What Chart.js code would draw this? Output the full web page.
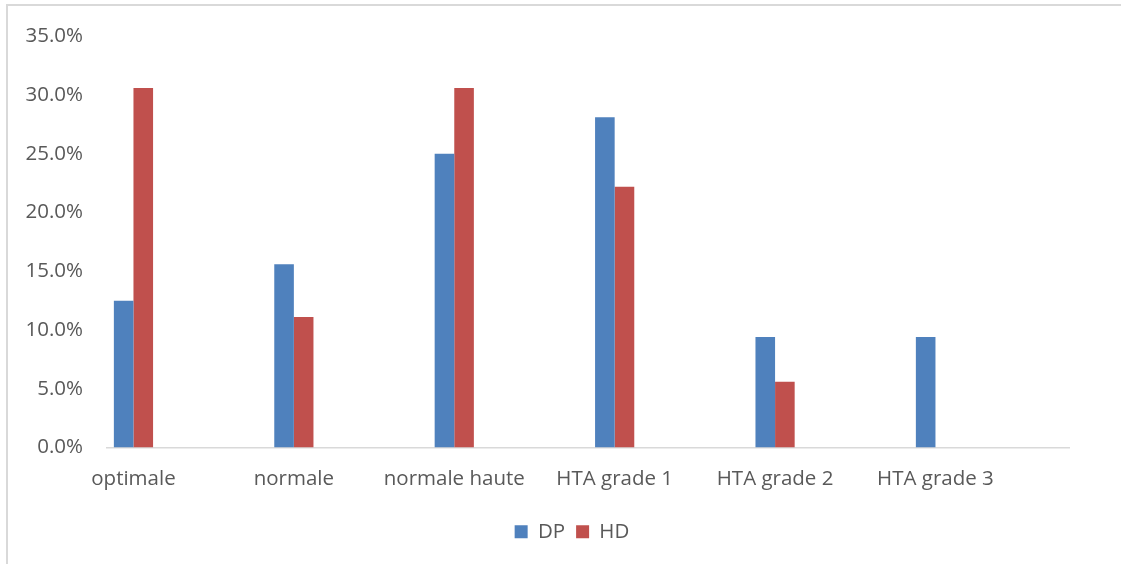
<!DOCTYPE html>
<html>
<head>
<meta charset="utf-8">
<script src="https://cdn.jsdelivr.net/npm/chart.js@4/dist/chart.umd.min.js"></script>
<style>
  html, body { margin: 0; padding: 0; background: #ffffff; }
  #wrap { position: relative; width: 1121px; height: 564px; }
  #frame {
    position: absolute; left: 6px; top: 4px; right: 0; bottom: 0;
    border-left: 2px solid #d9d9d9; border-top: 2px solid #d9d9d9;
    pointer-events: none;
  }
  canvas { position: absolute; left: 0; top: 0; }
</style>
</head>
<body>
<div id="wrap">
  <canvas id="c" width="1121" height="564"></canvas>
  <div id="frame"></div>
</div>
<script>
// Blood-pressure classes and the share of each group (in %)
const categories = ['optimale', 'normale', 'normale haute', 'HTA grade 1', 'HTA grade 2', 'HTA grade 3'];
const dpValues = [12.5, 15.6, 25.0, 28.1, 9.4, 9.4];
const hdValues = [30.6, 11.1, 30.6, 22.2, 5.6, 0];
const yTicks = [0, 5, 10, 15, 20, 25, 30, 35];

const textColor = '#595959';
const font = { family: "'Open Sans', sans-serif", size: 20.5 };

const toPoints = vals => vals.map((v, i) => ({ x: i, y: v }));

// Centre the legend under the block that spans the value labels and the plot
const legendShift = {
  id: 'legendShift',
  beforeDraw(chart) {
    const lg = chart.legend;
    if (lg) { lg.left = 75; lg.right = chart.chartArea.right; }
  }
};

new Chart(document.getElementById('c'), {
  type: 'bar',
  data: {
    datasets: [
      { label: 'DP', data: toPoints(dpValues), backgroundColor: '#4f81bd', borderWidth: 0 },
      { label: 'HD', data: toPoints(hdValues), backgroundColor: '#c0504d', borderWidth: 0 }
    ]
  },
  options: {
    responsive: false,
    animation: false,
    devicePixelRatio: 1,
    layout: { padding: { left: 0, right: 52, top: 35, bottom: 12 } },
    datasets: { bar: { barPercentage: 1, categoryPercentage: 0.2444 } },
    scales: {
      x: {
        type: 'linear',
        offset: false,
        min: -0.165,
        max: 5.8325,
        afterBuildTicks: s => { s.ticks = categories.map((_, i) => ({ value: i })); },
        afterFit: s => { s.height = 63; },
        grid: { display: false, drawTicks: false },
        border: { display: true, color: '#d9d9d9', width: 1.5 },
        ticks: {
          autoSkip: false,
          maxRotation: 0,
          padding: 19,
          color: textColor,
          font: font,
          callback: v => categories[v] ?? ''
        }
      },
      y: {
        min: 0,
        max: 35,
        afterBuildTicks: s => { s.ticks = yTicks.map(v => ({ value: v })); },
        afterFit: s => { s.width = 107; },
        grid: { display: false, drawTicks: false },
        border: { display: false },
        ticks: {
          padding: 24,
          color: textColor,
          font: font,
          callback: v => v.toFixed(1) + '%'
        }
      }
    },
    plugins: {
      tooltip: { enabled: false },
      legend: {
        position: 'bottom',
        labels: {
          boxWidth: 13,
          boxHeight: 13,
          padding: 11,
          color: textColor,
          font: font
        }
      }
    }
  },
  plugins: [legendShift]
});
</script>
</body>
</html>
